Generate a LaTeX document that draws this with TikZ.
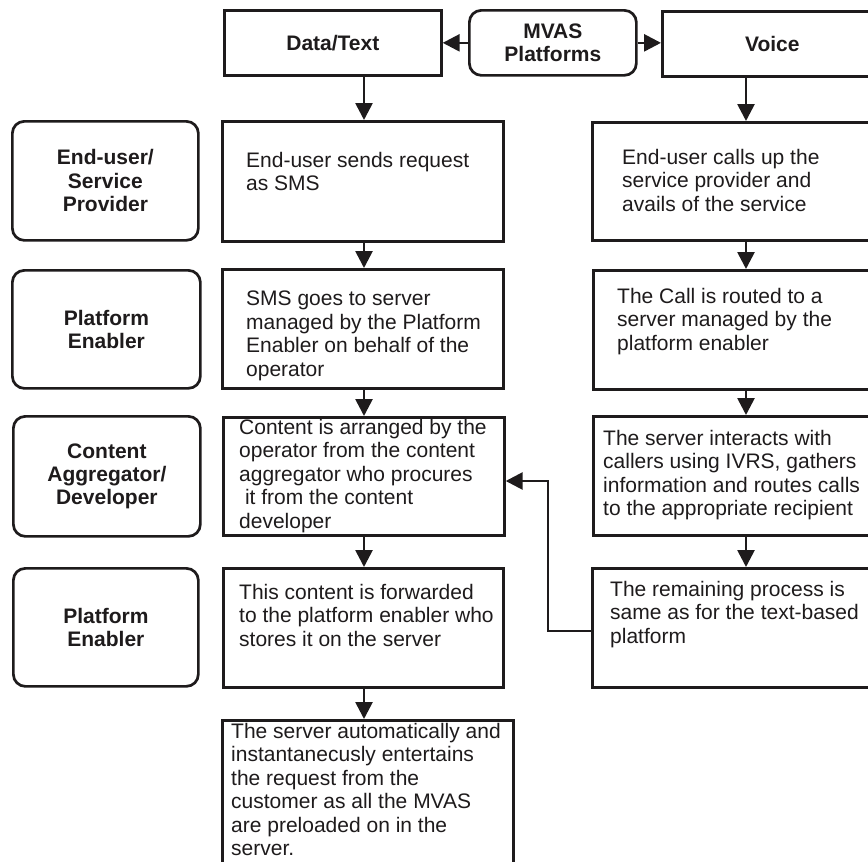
\documentclass[tikz,border=0pt]{standalone}
\usepackage{fontspec}
\setmainfont{Liberation Sans}
\usetikzlibrary{arrows.meta}
\definecolor{ink}{RGB}{30,27,28}
\begin{document}
\begin{tikzpicture}[x=1pt,y=-1pt,
  boxline/.style={draw=ink, line width=2.7pt},
  flowbox/.style={boxline, rectangle, anchor=north west, inner sep=0pt},
  rolebox/.style={boxline, rectangle, rounded corners=12pt, anchor=north west,
    inner sep=0pt, align=center, text=ink, font=\fontsize{21}{23.4}\selectfont\bfseries},
  headbox/.style={flowbox, align=center, text=ink, font=\fontsize{21}{23.4}\selectfont\bfseries},
  bodytext/.style={anchor=north west, inner sep=0pt, align=left, text=ink,
    font=\fontsize{21}{23.5}\selectfont},
  arr/.style={draw=ink, line width=2.7pt, -{Triangle[length=17pt,width=17pt]}}]
\clip (0,0) rectangle (868,862);
\fill[white] (0,0) rectangle (868,862);

% column lines for the vertical connectors
\coordinate (cm) at (364,0);
\coordinate (cr) at (746,0);

% header row
\node[headbox, minimum width=217pt, minimum height=65pt] (dt) at (223,9) {Data/Text};
\node[headbox, rounded corners=12pt, minimum width=167pt, minimum height=65pt] (mv) at (468,9) {MVAS\\Platforms};
\node[headbox, minimum width=220pt, minimum height=65pt] (vo) at (661,10) {Voice};

% role column
\node[rolebox, minimum width=186pt, minimum height=119pt] (l1) at (11,120) {End-user/\\Service\\Provider};
\node[rolebox, minimum width=188pt, minimum height=118pt] (l2) at (11,269) {Platform\\Enabler};
\node[rolebox, minimum width=187pt, minimum height=120pt] (l3) at (12,415) {Content\\Aggregator/\\Developer};
\node[rolebox, minimum width=185pt, minimum height=118pt] (l4) at (12,567) {Platform\\Enabler};

% data/text column
\node[flowbox, minimum width=281pt, minimum height=120pt] (m1) at (221,120) {};
\node[flowbox, minimum width=281pt, minimum height=119pt] (m2) at (221,268) {};
\node[flowbox, minimum width=281pt, minimum height=118pt] (m3) at (222,416) {};
\node[flowbox, minimum width=280pt, minimum height=119pt] (m4) at (222,567) {};
\node[flowbox, minimum width=291pt, minimum height=200pt] (m5) at (221,719) {};

% voice column
\node[flowbox, minimum width=300pt, minimum height=118pt] (r1) at (591,121) {};
\node[flowbox, minimum width=300pt, minimum height=119pt] (r2) at (592,269) {};
\node[flowbox, minimum width=300pt, minimum height=119pt] (r3) at (592,415) {};
\node[flowbox, minimum width=300pt, minimum height=119pt] (r4) at (591,567) {};

% box texts
\node[bodytext] (t1) at (246,152) {End-user sends request\\as SMS};
\node[bodytext] (t2) at (246,291) {SMS goes to server\\managed by the Platform\\Enabler on behalf of the\\operator};
\node[bodytext] (t3) at (239,419) {Content is arranged by the\\operator from the content\\aggregator who procures\\\hspace*{0.28em}it from the content\\developer};
\node[bodytext] (t4) at (239,584) {This content is forwarded\\to the platform enabler who\\stores it on the server};
\node[bodytext] (t5) at (231,723) {The server automatically and\\instantanecusly entertains\\the request from the\\customer as all the MVAS\\are preloaded on in the\\server.};
\node[bodytext] (u1) at (622,149) {End-user calls up the\\service provider and\\avails of the service};
\node[bodytext] (u2) at (617,288) {The Call is routed to a\\server managed by the\\platform enabler};
\node[bodytext] (u3) at (603,430) {The server interacts with\\callers using IVRS, gathers\\information and routes calls\\to the appropriate recipient};
\node[bodytext] (u4) at (610,581) {The remaining process is\\same as for the text-based\\platform};

% connectors
\draw[arr] (mv.west) -- (dt.east);
\draw[arr] (mv.east) -- (vo.west |- mv.east);
\draw[arr] (dt.south -| cm) -- (m1.north -| cm);
\draw[arr] (m1.south -| cm) -- (m2.north -| cm);
\draw[arr] (m2.south -| cm) -- (m3.north -| cm);
\draw[arr] (m3.south -| cm) -- (m4.north -| cm);
\draw[arr] (m4.south -| cm) -- (m5.north -| cm);
\draw[arr] (vo.south -| cr) -- (r1.north -| cr);
\draw[arr] (r1.south -| cr) -- (r2.north -| cr);
\draw[arr] (r2.south -| cr) -- (r3.north -| cr);
\draw[arr] (r3.south -| cr) -- (r4.north -| cr);
\coordinate (fb) at (548,631);
\coordinate (fbtop) at (548,481);
\draw[arr] (r4.west |- fb) -- (fb) -- (fbtop) -- (m3.east |- fbtop);
\end{tikzpicture}
\end{document}
